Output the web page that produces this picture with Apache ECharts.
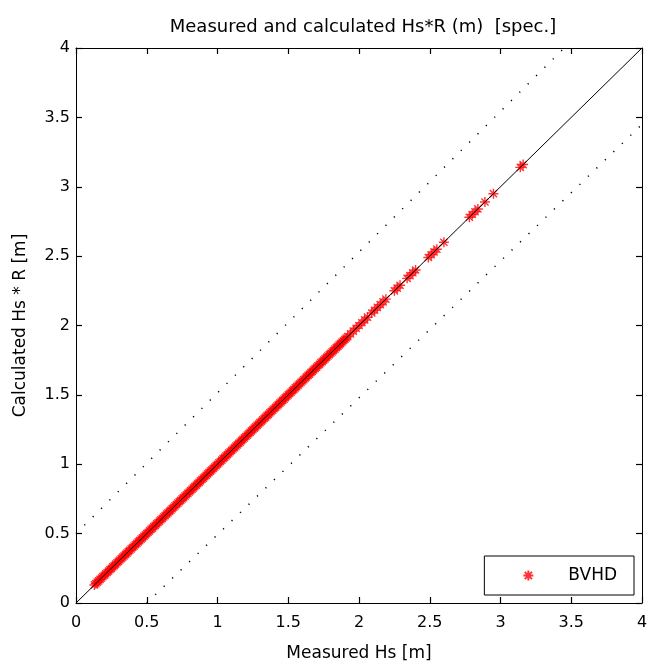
<!DOCTYPE html>
<html><head><meta charset="utf-8">
<script src="https://cdn.jsdelivr.net/npm/echarts@6/dist/echarts.min.js"></script>
<style>html,body{margin:0;padding:0;background:#fff}#c{width:649px;height:666px}</style>
</head><body><div id="c"></div>
<script>
const titleText = 'Measured and calculated Hs*R (m)  [spec.]';
const xName = 'Measured Hs [m]';
const yName = 'Calculated Hs * R [m]';
const seriesName = 'BVHD';
const tickValues = [0, 0.5, 1, 1.5, 2, 2.5, 3, 3.5, 4];
// measured Hs (dense band + sparse clusters)
const measuredHs = [
 0.13,0.14,0.15,0.16,0.17,0.18,0.19,0.20,0.21,0.22,0.23,0.24,0.25,0.26,0.27,0.28,0.29,0.30,
 0.31,0.32,0.33,0.34,0.35,0.36,0.37,0.38,0.39,0.40,0.41,0.42,0.43,0.44,0.45,0.46,0.47,0.48,0.49,0.50,
 0.51,0.52,0.53,0.54,0.55,0.56,0.57,0.58,0.59,0.60,0.61,0.62,0.63,0.64,0.65,0.66,0.67,0.68,0.69,0.70,
 0.71,0.72,0.73,0.74,0.75,0.76,0.77,0.78,0.79,0.80,0.81,0.82,0.83,0.84,0.85,0.86,0.87,0.88,0.89,0.90,
 0.91,0.92,0.93,0.94,0.95,0.96,0.97,0.98,0.99,1.00,1.01,1.02,1.03,1.04,1.05,1.06,1.07,1.08,1.09,1.10,
 1.11,1.12,1.13,1.14,1.15,1.16,1.17,1.18,1.19,1.20,1.21,1.22,1.23,1.24,1.25,1.26,1.27,1.28,1.29,1.30,
 1.31,1.32,1.33,1.34,1.35,1.36,1.37,1.38,1.39,1.40,1.41,1.42,1.43,1.44,1.45,1.46,1.47,1.48,1.49,1.50,
 1.51,1.52,1.53,1.54,1.55,1.56,1.57,1.58,1.59,1.60,1.61,1.62,1.63,1.64,1.65,1.66,1.67,1.68,1.69,1.70,
 1.71,1.72,1.73,1.74,1.75,1.76,1.77,1.78,1.79,1.80,1.81,1.82,1.83,1.84,1.85,1.86,1.87,1.88,1.89,1.90,
 1.91,1.92,
 1.94,1.96,1.98,2.00,2.02,2.04,2.06,2.09,2.11,2.13,2.15,2.17,2.19,2.25,2.27,2.29,2.34,2.36,2.38,2.40,
 2.49,2.51,2.53,2.55,2.60,2.78,2.80,2.82,2.84,2.89,2.95,3.14,3.16
];
// calculated Hs*R
const calculatedHsR = [
 0.13,0.14,0.15,0.16,0.17,0.18,0.19,0.20,0.21,0.22,0.23,0.24,0.25,0.26,0.27,0.28,0.29,0.30,
 0.31,0.32,0.33,0.34,0.35,0.36,0.37,0.38,0.39,0.40,0.41,0.42,0.43,0.44,0.45,0.46,0.47,0.48,0.49,0.50,
 0.51,0.52,0.53,0.54,0.55,0.56,0.57,0.58,0.59,0.60,0.61,0.62,0.63,0.64,0.65,0.66,0.67,0.68,0.69,0.70,
 0.71,0.72,0.73,0.74,0.75,0.76,0.77,0.78,0.79,0.80,0.81,0.82,0.83,0.84,0.85,0.86,0.87,0.88,0.89,0.90,
 0.91,0.92,0.93,0.94,0.95,0.96,0.97,0.98,0.99,1.00,1.01,1.02,1.03,1.04,1.05,1.06,1.07,1.08,1.09,1.10,
 1.11,1.12,1.13,1.14,1.15,1.16,1.17,1.18,1.19,1.20,1.21,1.22,1.23,1.24,1.25,1.26,1.27,1.28,1.29,1.30,
 1.31,1.32,1.33,1.34,1.35,1.36,1.37,1.38,1.39,1.40,1.41,1.42,1.43,1.44,1.45,1.46,1.47,1.48,1.49,1.50,
 1.51,1.52,1.53,1.54,1.55,1.56,1.57,1.58,1.59,1.60,1.61,1.62,1.63,1.64,1.65,1.66,1.67,1.68,1.69,1.70,
 1.71,1.72,1.73,1.74,1.75,1.76,1.77,1.78,1.79,1.80,1.81,1.82,1.83,1.84,1.85,1.86,1.87,1.88,1.89,1.90,
 1.91,1.92,
 1.94,1.96,1.98,2.00,2.02,2.04,2.06,2.09,2.11,2.13,2.15,2.17,2.19,2.25,2.27,2.29,2.34,2.36,2.38,2.40,
 2.49,2.51,2.53,2.55,2.60,2.78,2.80,2.82,2.84,2.89,2.95,3.14,3.16
];
const diagLine = [[0,0],[4,4]];
const upperBound = [[0,0.5],[3.45,4]];
const lowerBound = [[0.5,0],[4,3.45]];

const font = 'DejaVu Sans';
const fsTick = 16;
const fsText = 17;
const star = 'path://M0,-5L0,5M-5,0L5,0M-3.6,-3.6L3.6,3.6M-3.6,3.6L3.6,-3.6';
const chart = echarts.init(document.getElementById('c'));
const mkAxis = (extra) => Object.assign({
  type:'value', min:0, max:4, interval:0.5,
  axisLine:{show:true,onZero:false,lineStyle:{color:'#000',width:1}},
  axisTick:{show:true,inside:true,length:6,lineStyle:{color:'#000',width:1.2}},
  splitLine:{show:false},
  axisLabel:{show:true,color:'#000',fontFamily:font,fontSize:fsTick}
}, extra);
chart.setOption({
  animation:false,
  backgroundColor:'#fff',
  title:{text:titleText,left:358,textAlign:'center',top:13,
    textStyle:{fontFamily:font,fontSize:18,fontWeight:'normal',color:'#000'}},
  grid:{left:76,right:7,top:48,bottom:63,containLabel:false,outerBoundsMode:'none'},
  legend:{show:true,right:15,bottom:71,orient:'horizontal',
    data:[{name:seriesName,icon:star}],itemWidth:10,itemHeight:10,itemGap:10,
    padding:[11,17,11,38],borderColor:'#000',borderWidth:1,backgroundColor:'#fff',
    textStyle:{fontFamily:font,fontSize:fsText,color:'#000',padding:[0,0,0,30]}},
  xAxis:[
    mkAxis({position:'bottom',name:xName,nameLocation:'middle',nameGap:42,
      nameTextStyle:{fontFamily:font,fontSize:fsText,color:'#000'},
      axisLabel:{show:true,color:'#000',fontFamily:font,fontSize:fsTick,margin:12,
        formatter:v=>tickValues.includes(v)?String(v):''}}),
    mkAxis({position:'top',axisLabel:{show:true,color:'rgba(0,0,0,0)',fontSize:8,formatter:()=>' '}})
  ],
  yAxis:[
    mkAxis({position:'left',name:yName,nameLocation:'middle',nameGap:47,
      nameTextStyle:{fontFamily:font,fontSize:fsText,color:'#000'},
      axisLabel:{show:true,color:'#000',fontFamily:font,fontSize:fsTick,margin:6}}),
    mkAxis({position:'right',axisLabel:{show:true,color:'rgba(0,0,0,0)',fontSize:8,formatter:()=>' '}})
  ],
  series:[
    {type:'line',data:diagLine,symbol:'none',silent:true,lineStyle:{color:'#000',width:1},z:3},
    {type:'line',data:upperBound,symbol:'none',silent:true,lineStyle:{color:'#000',width:1.5,type:[1.2,10.6]},z:1},
    {type:'line',data:lowerBound,symbol:'none',silent:true,lineStyle:{color:'#000',width:1.5,type:[1.2,10.6]},z:1},
    {type:'line',data:diagLine,xAxisIndex:1,yAxisIndex:1,symbol:'none',silent:true,lineStyle:{opacity:0},z:0},
    {type:'scatter',name:seriesName,data:measuredHs.map((v,i)=>[v,calculatedHsR[i]]),
      symbol:star,symbolSize:10,z:2,
      itemStyle:{color:'#ff0000',borderColor:'#ff0000',borderWidth:1.4}}
  ]
});
</script></body></html>
